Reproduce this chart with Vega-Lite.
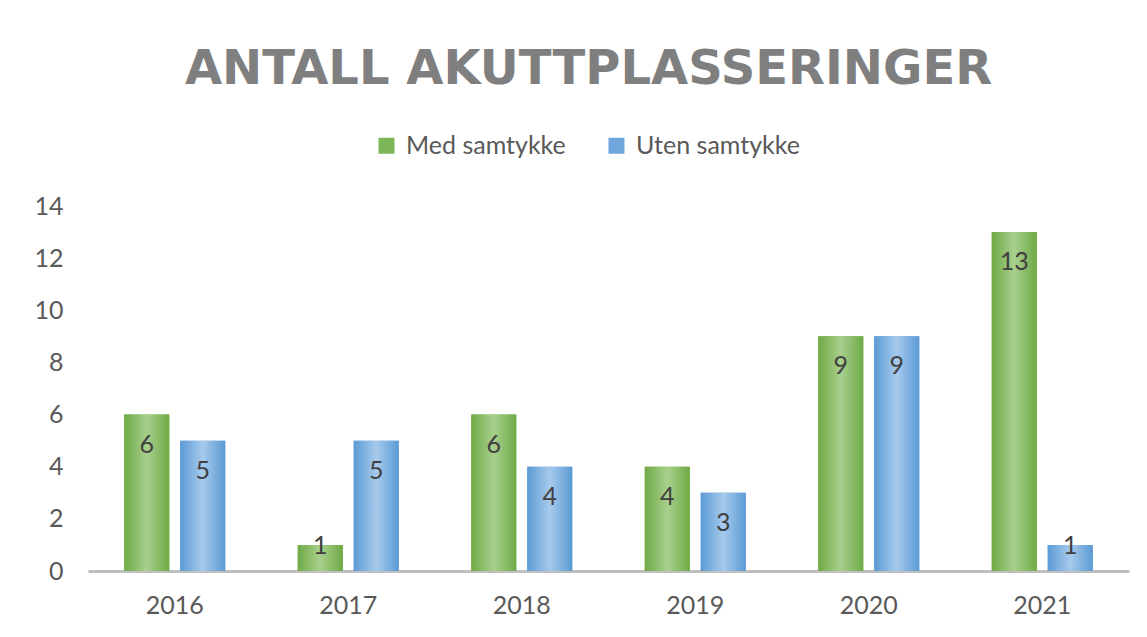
{
  "$schema": "https://vega.github.io/schema/vega-lite/v6.json",
  "width": 1041,
  "height": 365,
  "autosize": {"type": "none"},
  "padding": {"left": 88, "top": 206, "right": 18, "bottom": 66},
  "background": "white",
  "title": {
    "text": "ANTALL AKUTTPLASSERINGER",
    "font": "DejaVu Sans",
    "fontSize": 48,
    "fontWeight": "bold",
    "color": "#7F7F7F",
    "anchor": "middle",
    "offset": 39,
    "dx": -20
  },
  "data": {
    "values": [
      {"year": "2016", "series": "Med samtykke", "value": 6},
      {"year": "2016", "series": "Uten samtykke", "value": 5},
      {"year": "2017", "series": "Med samtykke", "value": 1},
      {"year": "2017", "series": "Uten samtykke", "value": 5},
      {"year": "2018", "series": "Med samtykke", "value": 6},
      {"year": "2018", "series": "Uten samtykke", "value": 4},
      {"year": "2019", "series": "Med samtykke", "value": 4},
      {"year": "2019", "series": "Uten samtykke", "value": 3},
      {"year": "2020", "series": "Med samtykke", "value": 9},
      {"year": "2020", "series": "Uten samtykke", "value": 9},
      {"year": "2021", "series": "Med samtykke", "value": 13},
      {"year": "2021", "series": "Uten samtykke", "value": 1}
    ]
  },
  "encoding": {
    "x": {
      "field": "year",
      "type": "nominal",
      "scale": {"paddingInner": 0.418, "paddingOuter": 0.209},
      "axis": {
        "title": null,
        "labelAngle": 0,
        "ticks": false,
        "domainColor": "#BFBFBF",
        "domainWidth": 3,
        "labelFont": "Lato",
        "labelFontSize": 25,
        "labelColor": "#595959",
        "labelPadding": 22
      }
    },
    "xOffset": {
      "field": "series",
      "type": "nominal",
      "scale": {"paddingInner": 0.196, "paddingOuter": 0}
    },
    "y": {
      "field": "value",
      "type": "quantitative",
      "scale": {"domain": [0, 14], "nice": false},
      "axis": {
        "title": null,
        "values": [0, 2, 4, 6, 8, 10, 12, 14],
        "domain": false,
        "ticks": false,
        "grid": false,
        "labelFont": "Lato",
        "labelFontSize": 25,
        "labelColor": "#595959",
        "labelPadding": 25
      }
    }
  },
  "layer": [
    {
      "mark": {"type": "bar"},
      "encoding": {
        "color": {
          "field": "series",
          "type": "nominal",
          "scale": {"domain": ["Med samtykke", "Uten samtykke"], "range": ["#7DB657", "#6FA6DB"]},
          "legend": {
            "title": null,
            "orient": "none",
            "direction": "horizontal",
            "legendX": 286,
            "legendY": -73,
            "symbolType": "square",
            "symbolSize": 256,
            "symbolStrokeWidth": 0,
            "labelFont": "Lato",
            "labelFontSize": 25,
            "labelColor": "#595959",
            "labelOffset": 7,
            "labelLimit": 400,
            "columnPadding": 38
          }
        }
      }
    },
    {
      "mark": {"type": "bar"},
      "encoding": {
        "fill": {
          "condition": {
            "test": "datum.series === 'Med samtykke'",
            "value": {
              "gradient": "linear",
              "x1": 0, "y1": 0, "x2": 1, "y2": 0,
              "stops": [
                {"offset": 0, "color": "#6FAA46"},
                {"offset": 0.5, "color": "#A8D08D"},
                {"offset": 1, "color": "#6FAA46"}
              ]
            }
          },
          "value": {
            "gradient": "linear",
            "x1": 0, "y1": 0, "x2": 1, "y2": 0,
            "stops": [
              {"offset": 0, "color": "#5B9AD4"},
              {"offset": 0.5, "color": "#A6CAEC"},
              {"offset": 1, "color": "#5B9AD4"}
            ]
          }
        }
      }
    },
    {
      "transform": [{"filter": "datum.value > 1"}],
      "mark": {
        "type": "text",
        "baseline": "top",
        "dy": 18,
        "font": "Lato",
        "fontSize": 25,
        "color": "#404040"
      },
      "encoding": {
        "text": {"field": "value", "type": "quantitative"}
      }
    },
    {
      "transform": [{"filter": "datum.value <= 1"}],
      "mark": {
        "type": "text",
        "baseline": "top",
        "dy": -11,
        "font": "Lato",
        "fontSize": 25,
        "color": "#404040"
      },
      "encoding": {
        "text": {"field": "value", "type": "quantitative"}
      }
    }
  ],
  "config": {
    "view": {"stroke": null}
  }
}
